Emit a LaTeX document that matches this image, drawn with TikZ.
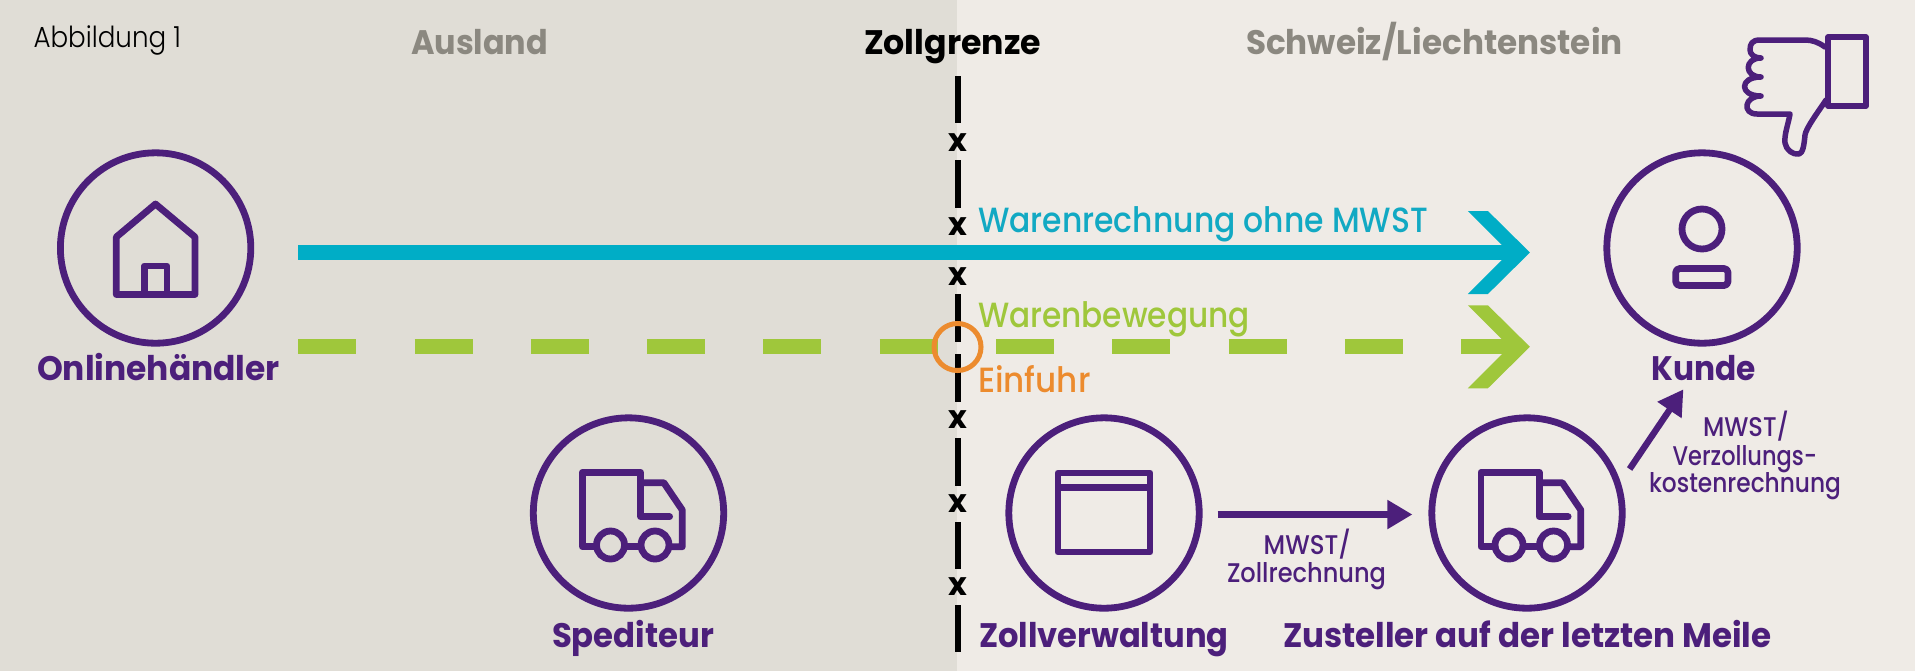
\documentclass[tikz,border=0pt]{standalone}
\usepackage{fontspec}
\usepackage{graphicx}
\setmainfont{Poppins Medium}[BoldFont=Poppins Bold]
\newfontfamily\lightf{Poppins Light}
\usetikzlibrary{calc,arrows.meta}
\definecolor{bgL}{HTML}{E0DDD6}
\definecolor{bgR}{HTML}{EFEBE6}
\definecolor{purp}{HTML}{4C1F7B}
\definecolor{blu}{HTML}{00ADC6}
\definecolor{bluT}{HTML}{12A9C3}
\definecolor{grn}{HTML}{9FC73B}
\definecolor{orng}{HTML}{EC8B2E}
\definecolor{gry}{HTML}{8B8880}
\pgfdeclarearrow{
  name=Chev,
  setup code={\pgfarrowssettipend{0pt}\pgfarrowssetlineend{-9.5pt}},
  drawing code={
    \pgfpathmoveto{\pgfqpoint{0pt}{0pt}}
    \pgfpathlineto{\pgfqpoint{-21pt}{20.75pt}}
    \pgfpathlineto{\pgfqpoint{-31pt}{20.75pt}}
    \pgfpathlineto{\pgfqpoint{-10.25pt}{0pt}}
    \pgfpathlineto{\pgfqpoint{-31pt}{-20.75pt}}
    \pgfpathlineto{\pgfqpoint{-21pt}{-20.75pt}}
    \pgfpathclose
    \pgfusepathqfill
  },
  defaults={}
}
% name, x-left, baseline, width (px), style, text
\newcommand\lbl[6]{\node[lab,#5,anchor=base west] (#1) at (#2,#3) {\resizebox{\dimexpr#4pt/2\relax}{\height}{#6}};}
\tikzset{
  lab/.style={inner sep=0pt,outer sep=0pt},
  bold/.style={font=\fontsize{17pt}{18pt}\selectfont\bfseries},
  head/.style={bold,text=gry},
  actor/.style={bold,text=purp},
  flow/.style={font=\fontsize{17.5pt}{20pt}\selectfont},
  small/.style={font=\fontsize{13.5pt}{14pt}\selectfont,text=purp},
  ring/.style={circle,draw=purp,line width=3.4pt,minimum size=95.2pt,inner sep=0pt},
  icon/.style={draw=purp,line width=3.4pt,line join=round},
  xmark/.style={inner sep=0pt,font=\fontsize{16pt}{16pt}\selectfont\bfseries,text=black},
  border/.style={line width=2.75pt,black},
  bigflow/.style={line width=7.5pt,-Chev},
  purparrow/.style={draw=purp,line width=3.2pt,-{Triangle[length=12.5pt,width=13.8pt]}},
}
\begin{document}
\begin{tikzpicture}[x=0.5pt,y=-0.5pt]
\useasboundingbox (0,0) rectangle (1915,671);
\fill[bgL] (0,0) rectangle (957,671);
\fill[bgR] (957,0) rectangle (1915,671);
% border
\foreach \a/\b in {76/123,160/208,294/342,354/402,438/486,522/569,605/652}
  \draw[border] (958,\a) -- (958,\b);
\foreach \n/\y in {xa/142.7,xb/227,xc/277,xd/420,xe/504,xf/587}
  \node[xmark] (\n) at (958,\y) {x};
% circles
\node[ring] (haendler) at (155.6,248) {};
\node[ring] (kunde) at (1702,248) {};
\node[ring] (sped) at (628.5,513) {};
\node[ring] (zoll) at (1104,513) {};
\node[ring] (zust) at (1527,513) {};
% flows
\coordinate (ba) at ($(haendler.east)+(44,4.5)$);
\coordinate (bb) at ($(kunde.west)+(-73.5,4.5)$);
\draw[bigflow,blu] (ba) -- (bb);
\coordinate (ga) at ($(haendler.east)+(44,98.8)$);
\coordinate (gb) at ($(kunde.west)+(-73.5,98.8)$);
\draw[bigflow,grn,dash pattern=on 29pt off 29.15pt] (ga) -- (gb);
\node[circle,draw=orng,line width=2.5pt,minimum size=23.5pt,inner sep=0pt] (einfuhrring) at (957.5,347) {};
% purple arrows
\coordinate (pa) at ($(zoll.east)+(15,1.5)$);
\coordinate (pb) at ($(zust.west)+(-16,1.5)$);
\draw[purparrow] (pa) -- (pb);
\coordinate (da) at ($(zust)+(102.6,-44)$);
\coordinate (db) at ($(kunde)+(-18.6,141.3)$);
\draw[purparrow] (da) -- (db);
% house
\draw[icon] (116.3,294.5) -- (116.3,237) -- (155.5,204) -- (195,237) -- (195,294.5) -- cycle;
\draw[icon] (144.5,294.5) -- (144.5,266) -- (167,266) -- (167,294.5);
% person
\draw[icon] (1702,229) circle[radius=20];
\draw[icon,rounded corners=2pt] (1675.7,268.5) rectangle (1728,285.5);
% window
\draw[icon] (1058,473) rectangle (1150,552);
\draw[icon] (1058,487.3) -- (1150,487.3);
% trucks
\foreach \dx in {0,898.5}{
\begin{scope}[xshift=\dx*0.5pt]
\draw[icon,line cap=round] (596.5,546.7) -- (582.4,546.7) -- (582.4,472.3) -- (640.6,472.3) -- (640.6,516.7) -- (669.6,516.7);
\draw[icon] (640.6,482.7) -- (663.8,482.7) -- (682.3,510) -- (682.3,546.7) -- (669,546.7);
\draw[icon] (624.5,546.7) -- (641,546.7);
\draw[icon] (610.5,545) circle[radius=14];
\draw[icon] (655,545) circle[radius=14];
\end{scope}}
% thumb
\draw[icon,line width=2.75pt] (1828,37) rectangle (1866,106);
\draw[icon,line width=2.75pt,line cap=round] (1825,47) .. controls (1818,42) and (1812,40) .. (1805,40) -- (1760,40) .. controls (1752,40) and (1750,44) .. (1750,50) .. controls (1750,54) and (1754,58) .. (1761,58) .. controls (1744,58) and (1744,77) .. (1761,77) .. controls (1739,77) and (1739,96) .. (1761,96) .. controls (1744,96) and (1742,114) .. (1757,114) -- (1790,114) .. controls (1788,125) and (1784,135) .. (1785,143) .. controls (1786,150) and (1793,155) .. (1799,154) .. controls (1803,153) and (1804,145) .. (1805,135) .. controls (1806,128) and (1818,112) .. (1826,100);
% texts
\lbl{tA}{33.5}{47}{147.5}{font=\lightf\fontsize{14.5pt}{15pt}\selectfont,text=black}{Abbildung 1}
\lbl{tB}{411}{54.5}{137}{head}{Ausland}
\lbl{tC}{864}{54.5}{177}{bold,text=black}{Zollgrenze}
\lbl{tD}{1246}{54.5}{376.7}{head}{Schweiz/Liechtenstein}
\lbl{tE}{978}{232}{450}{flow,text=bluT}{Warenrechnung ohne MWST}
\lbl{tF}{978}{327}{272}{flow,text=grn}{Warenbewegung}
\lbl{tG}{978}{392.5}{112.6}{flow,text=orng}{Einfuhr}
\lbl{tH}{37}{380}{243}{actor}{Onlinehändler}
\lbl{tI}{1651.7}{380}{104.3}{actor}{Kunde}
\lbl{tJ}{552}{647}{162}{actor}{Spediteur}
\lbl{tK}{979}{647}{249.6}{actor}{Zollverwaltung}
\lbl{tL}{1283}{647}{488.6}{actor}{Zusteller auf der letzten Meile}
\lbl{tM}{1703}{436.7}{86}{small}{MWST/}
\lbl{tN}{1672.6}{465}{144.4}{small}{Verzollungs-}
\lbl{tO}{1649}{492.7}{192}{small}{kostenrechnung}
\lbl{tP}{1263.7}{554.3}{87.3}{small}{MWST/}
\lbl{tQ}{1227}{582.7}{159}{small}{Zollrechnung}
\end{tikzpicture}
\end{document}
